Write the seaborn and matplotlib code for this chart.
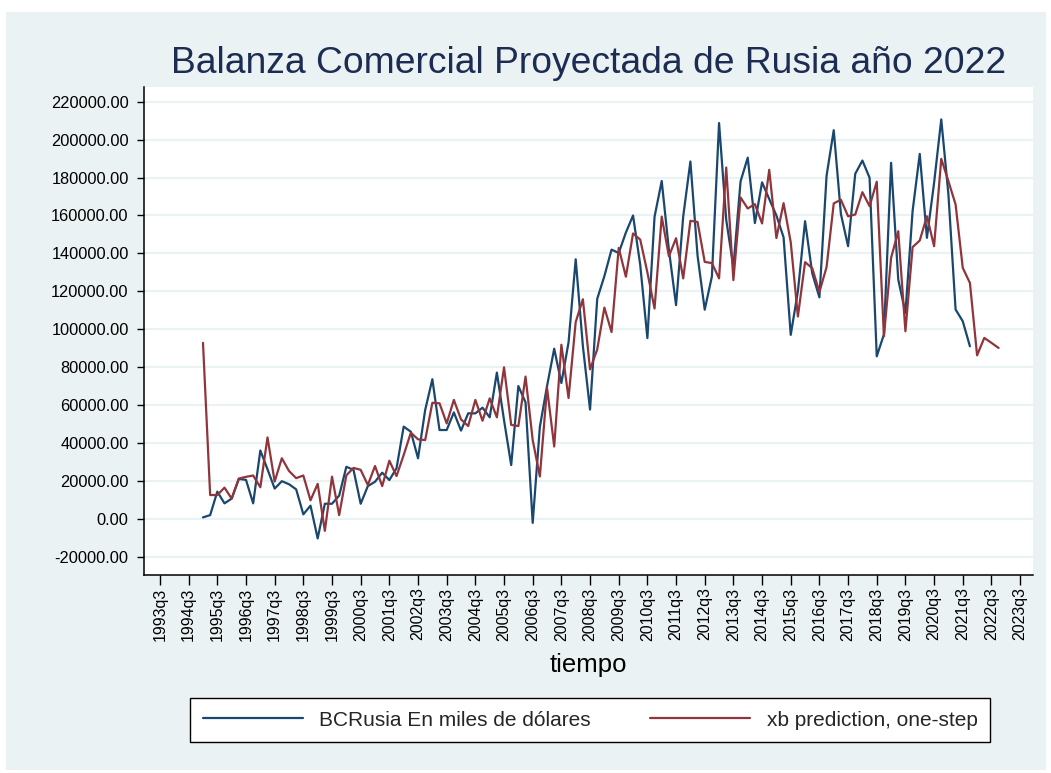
import numpy as np
import pandas as pd
import matplotlib
matplotlib.use("Agg")
import matplotlib.pyplot as plt
from matplotlib.patches import Rectangle
from matplotlib.ticker import FormatStrFormatter
import seaborn as sns

# ================= DATA =================

# BCRusia, quarterly from 1995q1 to 2021q4 (miles de dolares)
bc_rusia = [
    700, 1900, 14300, 8100, 10600, 21000, 20500, 8100,
    36000, 26100, 15900, 19800, 18200, 15500, 2300, 6900,
    -10400, 7900, 7900, 12200, 27400, 25800, 7900, 17200,
    19500, 24300, 20400, 26600, 48600, 45900, 31900, 57400,
    73600, 46800, 46800, 56100, 46500, 55600, 55600, 58600,
    53500, 77100, 52000, 28300, 70000, 61400, -2200, 48500,
    70000, 89700, 71600, 93000, 136900, 91100, 57600, 116000,
    128000, 142000, 140200, 151000, 160000, 134000, 95300, 159300,
    178200, 142000, 112700, 159500, 188500, 138800, 110300, 127800,
    208800, 157700, 132700, 178000, 190500, 156000, 177500, 168700,
    160000, 148500, 97000, 120000, 157000, 129500, 116800, 181000,
    205000, 160800, 143800, 182000, 189000, 179900, 85700, 97200,
    187800, 126200, 108600, 162300, 192500, 148200, 177200, 210700,
    171100, 110400, 104200, 91000,
]

# xb prediction, one-step, quarterly from 1995q1 to 2022q4
xb_pred = [
    92800, 12500, 12500, 16400, 10600, 21200, 22100, 22800,
    16600, 42900, 19600, 31900, 25200, 21400, 22800, 9700,
    18400, -6400, 22200, 1900, 22900, 26800, 25800, 17800,
    27800, 17200, 30600, 22500, 33600, 45400, 41900, 41500,
    61200, 60900, 50300, 62700, 52400, 48900, 62700, 51700,
    63500, 53500, 79900, 49500, 48900, 75000, 41500, 22300,
    69000, 38100, 91800, 63700, 103800, 115800, 78800, 89300,
    111400, 98500, 142900, 127700, 150500, 147300, 130000, 110900,
    159400, 138500, 148000, 126800, 157200, 156600, 135500, 134900,
    126800, 185300, 125900, 169500, 163700, 166000, 155800, 184100,
    148100, 166500, 145900, 106700, 135400, 132200, 119600, 132800,
    166400, 168300, 159600, 160500, 172300, 164900, 177800, 96300,
    137600, 151700, 98900, 143300, 146800, 159600, 143800, 189900,
    178100, 165800, 132400, 124400, 86200, 95400, 92800, 90100,
]

serie_names = ["BCRusia En miles de dólares", "xb prediction, one-step"]
serie_colors = ["#1A476F", "#90353B"]

start_quarter = "1995Q1"
axis_start = pd.Period("1993Q3", freq="Q")
tick_years = list(range(1993, 2024))
y_ticks = list(range(-20000, 220001, 20000))

# ================= BUILD LONG TABLE =================

frames = []
for name, values in zip(serie_names, [bc_rusia, xb_pred]):
    periods = pd.period_range(start_quarter, periods=len(values), freq="Q")
    frames.append(pd.DataFrame({
        "t": periods.asi8 - axis_start.ordinal,
        "valor": values,
        "serie": name,
    }))
df = pd.concat(frames, ignore_index=True)

# ================= STYLE =================

sns.set_theme(style="white")
plt.rcParams["font.family"] = ["Liberation Sans", "DejaVu Sans"]

bg = "#EAF2F3"

fig = plt.figure(figsize=(10.51, 7.73), dpi=100)
fig.patch.set_facecolor("white")
fig.patches.append(Rectangle(
    (6 / 1051, 3 / 773), 1040 / 1051, 758 / 773,
    transform=fig.transFigure, facecolor=bg, edgecolor="none", zorder=-10
))

ax = fig.add_axes([144 / 1051, 198 / 773, 889 / 1051, 488 / 773])
ax.set_facecolor("white")

sns.lineplot(
    data=df, x="t", y="valor", hue="serie",
    palette=dict(zip(serie_names, serie_colors)),
    linewidth=1.6, ax=ax, legend=False
)

# ================= AXES =================

ax.set_xlim(-2.23, 121.8)
ax.set_ylim(-29700, 227800)

ax.set_yticks(y_ticks)
ax.yaxis.set_major_formatter(FormatStrFormatter("%.2f"))
ax.set_xticks([(y - 1993) * 4 for y in tick_years])
ax.set_xticklabels([f"{y}q3" for y in tick_years], rotation=90)

ax.grid(axis="y", color=bg, linewidth=1.6)
ax.grid(axis="x", visible=False)
ax.set_axisbelow(True)

for side in ["top", "right"]:
    ax.spines[side].set_visible(False)
for side in ["left", "bottom"]:
    ax.spines[side].set_color("black")
    ax.spines[side].set_linewidth(1.1)

ax.tick_params(axis="y", which="major", left=True, length=5, width=1,
               color="black", labelsize=11.8, pad=6, labelcolor="black")
ax.tick_params(axis="x", which="major", bottom=True, length=7, width=1,
               color="black", labelsize=11.5, pad=2, labelcolor="black")

ax.set_ylabel("")
ax.set_xlabel("tiempo", fontsize=18.5, labelpad=9, color="black")
ax.set_title("Balanza Comercial Proyectada de Rusia año 2022",
             fontsize=26.8, color="#1C2C53", pad=10)

# ================= LEGEND =================

handles = [plt.Line2D([], [], color=c, linewidth=1.6) for c in serie_colors]
leg = fig.legend(
    handles, serie_names, ncol=2, loc="lower left",
    bbox_to_anchor=(190 / 1051, 31 / 773, 800 / 1051, 45 / 773),
    bbox_transform=fig.transFigure, mode="expand",
    frameon=True, fancybox=False, framealpha=1, fontsize=15,
    handlelength=4.8, handletextpad=0.8, borderaxespad=0,
    borderpad=0.6, columnspacing=2
)
leg.get_frame().set_edgecolor("black")
leg.get_frame().set_linewidth(1.0)
leg.get_frame().set_facecolor("white")

fig.savefig("out.png", dpi=100, facecolor=fig.get_facecolor())
